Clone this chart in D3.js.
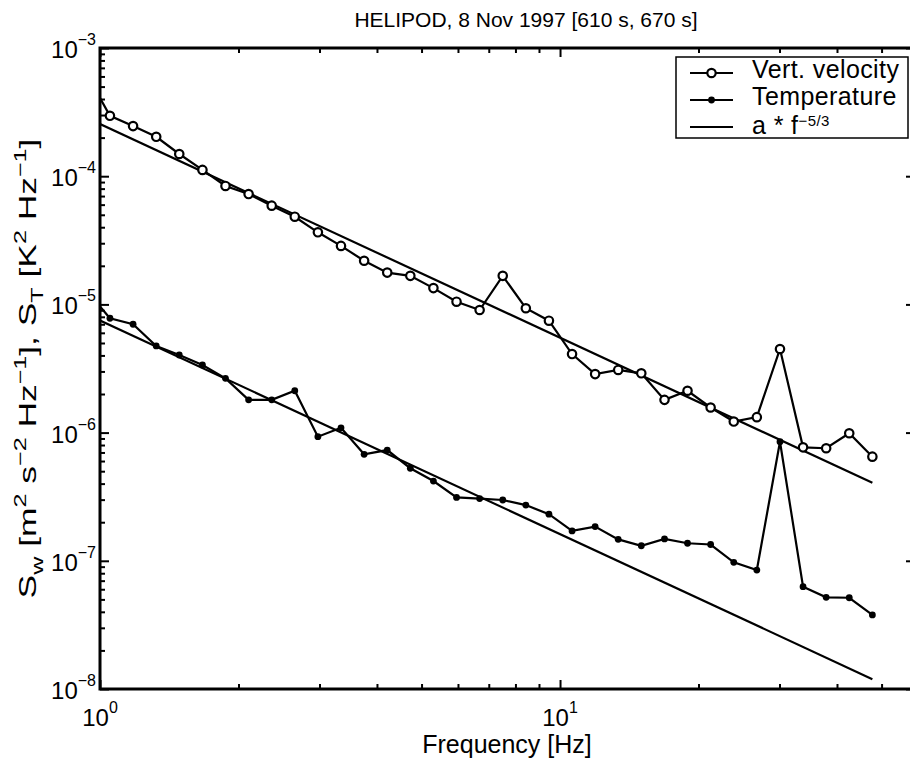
<!DOCTYPE html>
<html>
<head>
<meta charset="utf-8">
<script src="https://cdn.jsdelivr.net/npm/d3@7"></script>
<style>
  body { margin: 0; background: #fff; }
  text { font-family: "Liberation Sans", Arial, Helvetica, sans-serif; fill: #000; }
</style>
</head>
<body>
<div id="chart"></div>
<script>
// frequencies of the log-binned spectrum [Hz]
const freq = [0.937, 1.051, 1.180, 1.325, 1.487, 1.670, 1.874, 2.104, 2.362, 2.651,
  2.976, 3.341, 3.751, 4.211, 4.727, 5.306, 5.957, 6.687, 7.507, 8.427,
  9.460, 10.62, 11.92, 13.38, 15.02, 16.87, 18.93, 21.25, 23.86, 26.78,
  30.07, 33.75, 37.89, 42.53, 47.75]

// vertical velocity spectrum S_w
const velocity = [6.16e-4, 2.96e-4, 2.46e-4, 2.03e-4, 1.49e-4, 1.12e-4, 8.39e-5, 7.26e-5, 5.89e-5, 4.83e-5,
  3.65e-5, 2.86e-5, 2.19e-5, 1.77e-5, 1.67e-5, 1.34e-5, 1.05e-5, 9.04e-6, 1.67e-5, 9.33e-6,
  7.46e-6, 4.10e-6, 2.86e-6, 3.08e-6, 2.90e-6, 1.80e-6, 2.12e-6, 1.57e-6, 1.22e-6, 1.32e-6,
  4.49e-6, 7.67e-7, 7.55e-7, 9.88e-7, 6.49e-7]

// temperature spectrum S_T
const temperature = [1.27e-5, 7.80e-6, 7.00e-6, 4.74e-6, 4.03e-6, 3.37e-6, 2.65e-6, 1.80e-6, 1.80e-6, 2.12e-6,
  9.29e-7, 1.09e-6, 6.77e-7, 7.31e-7, 5.27e-7, 4.19e-7, 3.12e-7, 3.06e-7, 2.98e-7, 2.72e-7,
  2.31e-7, 1.71e-7, 1.85e-7, 1.47e-7, 1.31e-7, 1.48e-7, 1.37e-7, 1.34e-7, 9.73e-8, 8.47e-8,
  8.49e-7, 6.28e-8, 5.19e-8, 5.15e-8, 3.78e-8]

// a * f^-5/3 fits
const fitA = [2.55e-4, 7.5e-6]

const xMajor = [1, 10]
const yMajor = [1e-8, 1e-7, 1e-6, 1e-5, 1e-4, 1e-3]
const legendLabels = ["Vert. velocity", "Temperature", "a * f"]

const width = 910, height = 760
const pLeft = 100, pRight = 918, pTop = 48, pBottom = 689

const x = d3.scaleLog().domain([1, 60]).range([pLeft, pRight])
const y = d3.scaleLog().domain([1e-8, 1e-3]).range([pBottom, pTop])

const svg = d3.select("#chart").append("svg")
    .attr("width", width)
    .attr("height", height)

svg.append("defs").append("clipPath")
    .attr("id", "plotclip")
  .append("rect")
    .attr("x", pLeft).attr("y", pTop)
    .attr("width", pRight - pLeft).attr("height", pBottom - pTop)

// minor tick values
const xMinor = []
for (let d = 1; d <= 10; d *= 10)
  for (let m = 2; m <= 9; m++) if (d * m < 60) xMinor.push(d * m)
const yMinor = []
yMajor.slice(0, -1).forEach(d => { for (let m = 2; m <= 9; m++) yMinor.push(d * m) })

const tickAxis = (axis, vals, size) => axis.tickValues(vals).tickSize(size).tickFormat("")

const axes = svg.append("g").attr("class", "axes")
const addAxis = (gen, tr) => {
  const g = axes.append("g").attr("transform", tr).call(gen)
  g.select(".domain").remove()
  g.selectAll("line").attr("stroke", "#000").attr("stroke-width", 2)
}
addAxis(tickAxis(d3.axisBottom(x), xMinor, -5), `translate(0,${pBottom})`)
addAxis(tickAxis(d3.axisBottom(x), xMajor, -9), `translate(0,${pBottom})`)
addAxis(tickAxis(d3.axisTop(x), xMinor, -5), `translate(0,${pTop})`)
addAxis(tickAxis(d3.axisTop(x), xMajor, -9), `translate(0,${pTop})`)
addAxis(tickAxis(d3.axisLeft(y), yMinor, -5), `translate(${pLeft},0)`)
addAxis(tickAxis(d3.axisLeft(y), yMajor, -9), `translate(${pLeft},0)`)
addAxis(tickAxis(d3.axisRight(y), yMinor, -5), `translate(${pRight},0)`)
addAxis(tickAxis(d3.axisRight(y), yMajor, -12), `translate(${pRight},0)`)

svg.append("rect")
    .attr("x", pLeft).attr("y", pTop)
    .attr("width", pRight - pLeft).attr("height", pBottom - pTop)
    .attr("fill", "none")
    .attr("stroke", "#000")
    .attr("stroke-width", 3)

// tick labels as 10^n
const expLabel = (sel, base, exp) => {
  sel.append("tspan").text(base)
  sel.append("tspan").attr("dy", -13).attr("font-size", 16).text(exp)
}
xMajor.forEach(v => {
  const t = svg.append("text")
      .attr("x", x(v)).attr("y", 726)
      .attr("text-anchor", "middle")
      .attr("font-size", 24)
  expLabel(t, "10", Math.round(Math.log10(v)))
})
yMajor.forEach(v => {
  const t = svg.append("text")
      .attr("x", 96).attr("y", y(v) + 10)
      .attr("text-anchor", "end")
      .attr("font-size", 24)
  expLabel(t, "10", "\u2212" + Math.round(-Math.log10(v)))
})

// data
const plot = svg.append("g").attr("clip-path", "url(#plotclip)")

const line = d3.line().x(d => x(d[0])).y(d => y(d[1]))

const fmin = freq[0], fmax = freq[freq.length - 1]
fitA.forEach(a => {
  plot.append("path")
      .attr("d", line([[fmin, a * Math.pow(fmin, -5 / 3)], [fmax, a * Math.pow(fmax, -5 / 3)]]))
      .attr("fill", "none")
      .attr("stroke", "#000")
      .attr("stroke-width", 2.2)
})

const velPts = freq.map((f, i) => [f, velocity[i]])
const tempPts = freq.map((f, i) => [f, temperature[i]])

plot.append("path")
    .attr("d", line(velPts))
    .attr("fill", "none").attr("stroke", "#000").attr("stroke-width", 2.2)
plot.append("path")
    .attr("d", line(tempPts))
    .attr("fill", "none").attr("stroke", "#000").attr("stroke-width", 2.2)

plot.append("g").selectAll("circle")
  .data(velPts)
  .join("circle")
    .attr("cx", d => x(d[0])).attr("cy", d => y(d[1]))
    .attr("r", 4.2)
    .attr("fill", "#fff").attr("stroke", "#000").attr("stroke-width", 2.2)

plot.append("g").selectAll("circle")
  .data(tempPts)
  .join("circle")
    .attr("cx", d => x(d[0])).attr("cy", d => y(d[1]))
    .attr("r", 3.4)
    .attr("fill", "#000")

// legend
const lg = svg.append("g")
lg.append("rect")
    .attr("x", 676).attr("y", 57).attr("width", 232).attr("height", 81)
    .attr("fill", "#fff").attr("stroke", "#000").attr("stroke-width", 1.5)
legendLabels.forEach((name, i) => {
  const ly = 73 + i * 27
  lg.append("line")
      .attr("x1", 690).attr("x2", 733).attr("y1", ly).attr("y2", ly)
      .attr("stroke", "#000").attr("stroke-width", 2.2)
  if (i == 0) {
    lg.append("circle").attr("cx", 711.5).attr("cy", ly).attr("r", 4.2)
        .attr("fill", "#fff").attr("stroke", "#000").attr("stroke-width", 2.2)
  } else if (i == 1) {
    lg.append("circle").attr("cx", 711.5).attr("cy", ly).attr("r", 3.4).attr("fill", "#000")
  }
  const t = lg.append("text")
      .attr("x", 752).attr("y", ly + 5 + (i == 2 ? 2 : 0))
      .attr("font-size", 25)
      .attr("letter-spacing", 0.4)
      .text(name)
  if (i == 2) t.append("tspan").attr("dy", -8).attr("font-size", 15).text("\u22125/3")
})

// title and axis labels
svg.append("text")
    .attr("x", 526).attr("y", 27)
    .attr("text-anchor", "middle")
    .attr("font-size", 21)
    .text("HELIPOD, 8 Nov 1997 [610 s, 670 s]")

svg.append("text")
    .attr("x", 507).attr("y", 753)
    .attr("text-anchor", "middle")
    .attr("font-size", 25)
    .text("Frequency [Hz]")

// y label with sub/superscripts, stretched along its length
const ylg = svg.append("g")
    .attr("transform", `translate(36,${(pTop + pBottom) / 2}) rotate(-90)`)
const yl = ylg.append("text")
    .attr("text-anchor", "middle")
    .attr("font-size", 24)
const parts = [["S", 0], ["w", 7], [" [m", -7], ["2", -10], [" s", 10], ["\u22122", -10], [" Hz", 10], ["\u22121", -10],
  ["], S", 10], ["T", 7], [" [K", -7], ["2", -10], [" Hz", 10], ["\u22121", -10], ["]", 10]]
parts.forEach(([s, dy], i) => {
  const small = (i > 0 && (dy == 7 || dy == -10))
  yl.append("tspan").attr("dy", dy).attr("font-size", small ? 17 : 24).text(s)
})
const ylLen = yl.node().getBBox().width
yl.attr("transform", `scale(${460 / ylLen},1)`)
</script>
</body>
</html>
